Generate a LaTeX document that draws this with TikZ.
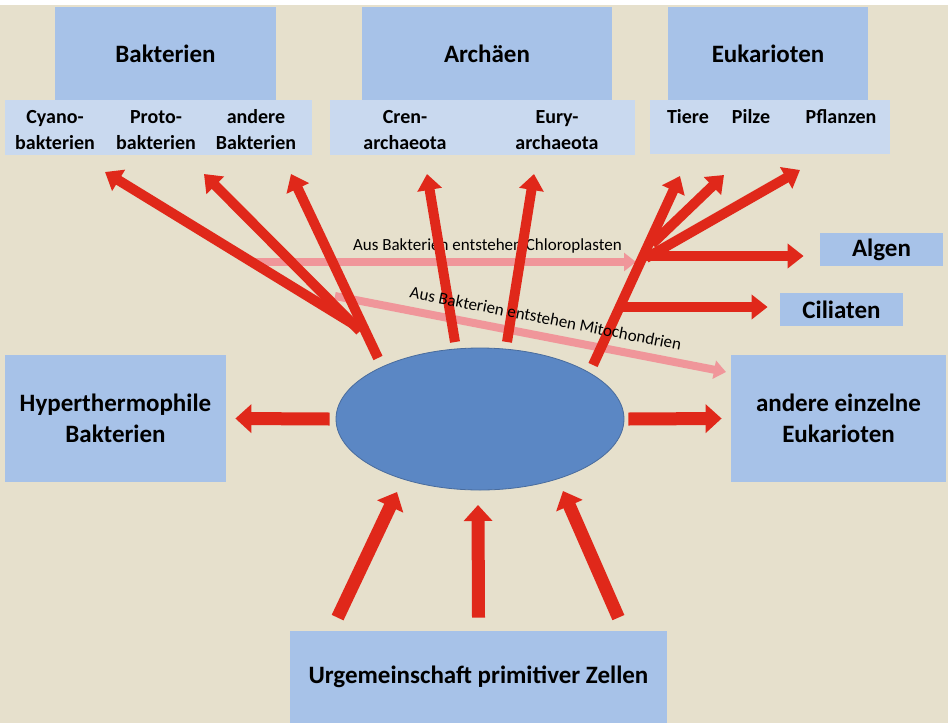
\documentclass[tikz,border=0pt]{standalone}
\usepackage{fontspec}
\setmainfont{Carlito}
\usetikzlibrary{positioning,arrows.meta,shapes.geometric}

\definecolor{bgbeige}{HTML}{E6E0CC}
\definecolor{groupblue}{HTML}{A7C2E8}
\definecolor{subblue}{HTML}{C9D9EF}
\definecolor{cellblue}{HTML}{5B87C4}
\definecolor{arrowred}{HTML}{E0281A}
\definecolor{arrowpink}{HTML}{F0969A}

\begin{document}
\begin{tikzpicture}[x=0.5pt,y=-0.5pt,
    group/.style={fill=groupblue,inner sep=0pt,align=center,font=\fontsize{12.5}{15.5}\selectfont\bfseries},
    subgroup/.style={fill=subblue,inner sep=0pt},
    subtext/.style={align=center,inner sep=0pt,font=\fontsize{10}{13}\selectfont\bfseries},
    redarrow/.style={draw=arrowred,line width=5pt,-{Triangle[width=12pt,length=8pt]}},
    bigarrow/.style={draw=arrowred,line width=6.5pt,-{Triangle[width=14pt,length=8pt]}},
    pinkarrow/.style={draw=arrowpink,line width=4pt,-{Triangle[width=9pt,length=6pt]}},
    note/.style={inner sep=1pt,font=\fontsize{8.5}{10}\selectfont}]
    %%%%% BACKGROUND
    \fill[white] (0,0) rectangle (948,723);
    \fill[bgbeige] (0,5) rectangle (948,723);
    %%%%% THE GROUPS
    \node[group,minimum width=110.5pt,minimum height=46.5pt] (bakt) at (165.5,53.5) {Bakterien};
    \node[subgroup,minimum width=153.5pt,minimum height=27.5pt] (baktsub) at (158.5,127.5) {};
    \node[subtext] (cyano) at (55,130) {Cyano-\\bakterien};
    \node[subtext] (proto) at (156,130) {Proto-\\bakterien};
    \node[subtext] (andere) at (256,130) {andere\\Bakterien};
    \node[group,minimum width=125pt,minimum height=46.5pt] (arch) at (487,53.5) {Archäen};
    \node[subgroup,minimum width=152.5pt,minimum height=27.5pt] (archsub) at (482.5,127.5) {};
    \node[subtext] (cren) at (405,130) {Cren-\\archaeota};
    \node[subtext] (eury) at (557,130) {Eury-\\archaeota};
    \node[group,minimum width=100pt,minimum height=46.5pt] (euk) at (768,53.5) {Eukarioten};
    \node[subgroup,minimum width=120pt,minimum height=27pt] (euksub) at (770,127) {};
    \node[subtext] (tiere) at (688,117) {Tiere};
    \node[subtext] (pilze) at (751,117) {Pilze};
    \node[subtext] (pflanzen) at (841,117) {Pflanzen};
    \node[group,minimum width=61.5pt,minimum height=16.5pt] (algen) at (881.5,249.5) {Algen};
    \node[group,minimum width=61.5pt,minimum height=16.5pt] (ciliaten) at (841.5,309.5) {Ciliaten};
    \node[group,minimum width=110.5pt,minimum height=63.5pt] (hyper) at (115.5,418.5) {Hyperthermophile\\Bakterien};
    \node[group,minimum width=107.5pt,minimum height=63.5pt] (einzeln) at (838.5,418.5) {andere einzelne\\Eukarioten};
    \node[group,minimum width=188.5pt,minimum height=46pt] (urge) at (478.5,677) {Urgemeinschaft primitiver Zellen};
    %%%%% THE CELL
    \node[ellipse,fill=cellblue,draw=cellblue!80!black,line width=0.4pt,
        minimum width=144pt,minimum height=71pt] (cell) at (480,419) {};
    %%%%% ENDOSYMBIOSIS
    \coordinate (chloroFrom) at (255,262);
    \coordinate (chloroTo) at (636,262);
    \coordinate (mitoFrom) at (335,296);
    \coordinate (mitoTo) at (726,372);
    \draw[pinkarrow] (chloroFrom) -- node[note,above=1.5pt,pos=0.61] (chloro) {Aus Bakterien entstehen Chloroplasten} (chloroTo);
    \draw[pinkarrow] (mitoFrom) -- (mitoTo);
    %%%%% BRANCHES TO THE GROUPS
    \coordinate (cyanoFrom) at (358,327);
    \coordinate (cyanoTo) at (105,172);
    \coordinate (protoFrom) at (360,331);
    \coordinate (protoTo) at (204,174);
    \coordinate (andereFrom) at (378,358);
    \coordinate (andereTo) at (291,174);
    \coordinate (crenFrom) at (455,342);
    \coordinate (crenTo) at (427,174);
    \coordinate (euryFrom) at (507,342);
    \coordinate (euryTo) at (534,174);
    \coordinate (trunkFrom) at (593,365);
    \coordinate (tiereTo) at (680,176);
    \coordinate (pilzeFrom) at (652,244);
    \coordinate (pilzeTo) at (724,175);
    \coordinate (pflanzenFrom) at (646,258);
    \coordinate (pflanzenTo) at (800,170);
    \coordinate (algenFrom) at (641,256);
    \coordinate (ciliatenFrom) at (619,307);
    \draw[redarrow] (cyanoFrom) -- (cyanoTo);
    \draw[redarrow] (protoFrom) -- (protoTo);
    \draw[redarrow] (andereFrom) -- (andereTo);
    \draw[redarrow] (crenFrom) -- (crenTo);
    \draw[redarrow] (euryFrom) -- (euryTo);
    \draw[redarrow] (trunkFrom) -- (tiereTo);
    \draw[redarrow] (pilzeFrom) -- (pilzeTo);
    \draw[redarrow] (pflanzenFrom) -- (pflanzenTo);
    \draw[redarrow] (algenFrom) -- ([xshift=-8pt]algenFrom -| algen.west);
    \draw[redarrow] (ciliatenFrom) -- ([xshift=-6pt]ciliatenFrom -| ciliaten.west);
    \path (mitoFrom) -- node[note,sloped,above=5pt,pos=0.53] (mito) {Aus Bakterien entstehen Mitochondrien} (mitoTo);
    %%%%% SIDE AND BOTTOM ARROWS
    \draw[bigarrow] ([xshift=-3pt]cell.west) -- ([xshift=4.5pt]hyper.east);
    \draw[bigarrow] ([xshift=2pt]cell.east) -- ([xshift=-4.5pt]einzeln.west);
    \coordinate (leftIn) at (397,492);
    \coordinate (midIn) at (478,505);
    \coordinate (rightIn) at (563,491);
    \draw[bigarrow] ([shift={(48,-13)}]urge.north west) -- (leftIn);
    \draw[bigarrow] ([yshift=6.5pt]urge.north) -- (midIn);
    \draw[bigarrow] ([shift={(-49,-13)}]urge.north east) -- (rightIn);
\end{tikzpicture}
\end{document}
